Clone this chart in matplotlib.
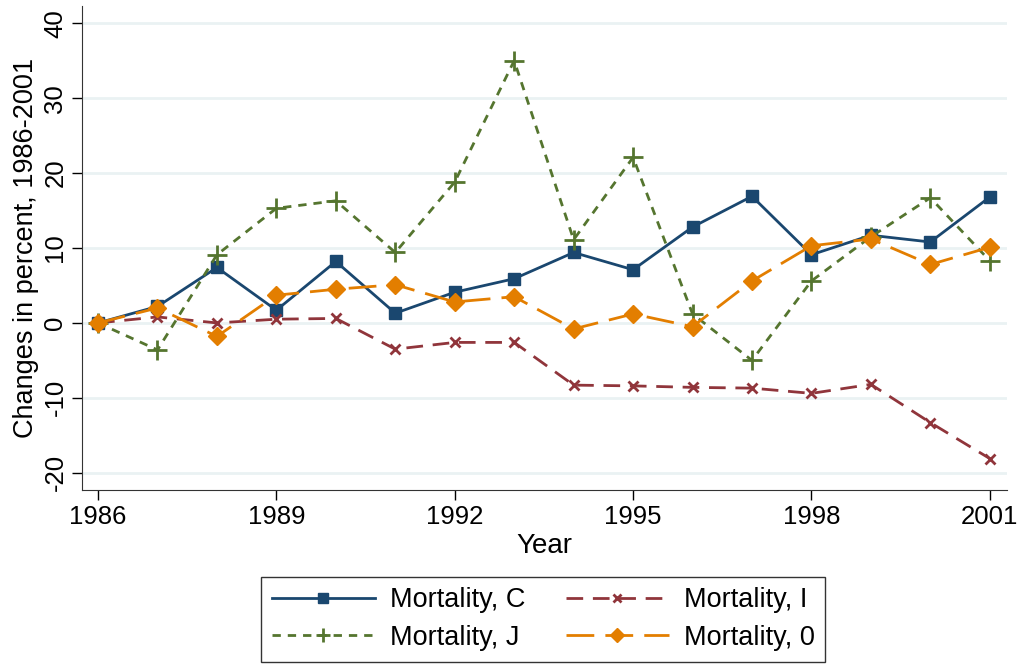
import matplotlib
matplotlib.use("Agg")
import matplotlib.pyplot as plt

plt.rcParams["font.family"] = ["Liberation Sans", "DejaVu Sans"]
plt.rcParams["axes.unicode_minus"] = False

# Data
years = list(range(1986, 2002))
mort_c = [0, 2.2, 7.4, 1.7, 8.2, 1.3, 4.1, 5.9, 9.4, 7.1, 12.8, 16.9, 9.1, 11.7, 10.8, 16.8]
mort_i = [0, 0.8, 0.0, 0.5, 0.6, -3.5, -2.6, -2.6, -8.3, -8.4, -8.6, -8.7, -9.4, -8.2, -13.3, -18.1]
mort_j = [0, -3.6, 9.1, 15.3, 16.3, 9.4, 18.8, 35.0, 11.1, 22.1, 1.2, -5.0, 5.6, 11.5, 16.7, 8.3]
mort_0 = [0, 2.0, -1.8, 3.7, 4.5, 5.1, 2.8, 3.5, -0.8, 1.2, -0.5, 5.6, 10.3, 11.2, 7.8, 10.1]

xticks = [1986, 1989, 1992, 1995, 1998, 2001]
yticks = [-20, -10, 0, 10, 20, 30, 40]

fig = plt.figure(figsize=(10.21, 6.64), dpi=100)
ax = fig.add_axes([0.0803, 0.262, 0.906, 0.729])

ax.plot(years, mort_c, color="#1a476f", lw=2, ls="-", marker="s", ms=9,
        label="Mortality, C")
ax.plot(years, mort_i, color="#90353b", lw=2, ls=(0, (6, 3.5)), marker="x", ms=7,
        mew=2, label="Mortality, I")
ax.plot(years, mort_j, color="#55752f", lw=2, ls=(0, (3, 2.5)), marker="+", ms=14,
        mew=2, label="Mortality, J")
ax.plot(years, mort_0, color="#e37e00", lw=2, ls=(0, (10, 4)), marker="D", ms=9,
        label="Mortality, 0")

ax.set_xlim(1985.73, 2001.29)
ax.set_ylim(-22.3, 42.3)
ax.set_xticks(xticks)
ax.set_yticks(yticks)
ax.tick_params(axis="both", labelsize=18.5, length=7, width=1, direction="out")
for lab in ax.get_yticklabels():
    lab.set_rotation(90)
    lab.set_va("center")

ax.grid(axis="y", color="#eaf2f3", lw=2)
ax.set_axisbelow(True)
for s in ["top", "right"]:
    ax.spines[s].set_visible(False)
ax.spines["left"].set_color("#333333")
ax.spines["bottom"].set_color("#333333")

ax.set_xlabel("Year", fontsize=20, labelpad=3)
ax.set_ylabel("Changes in percent, 1986-2001", fontsize=19.5, labelpad=3)

handles, labels = ax.get_legend_handles_labels()
order = [0, 2, 1, 3]
leg = fig.legend([handles[i] for i in order], [labels[i] for i in order],
                 loc="center", bbox_to_anchor=(0.532, 0.0675), ncol=2,
                 fontsize=19.5, frameon=True, fancybox=False, edgecolor="black",
                 handlelength=3.8, handletextpad=0.55, columnspacing=1.5,
                 borderpad=0.4, labelspacing=0.42, markerscale=0.75)
leg.get_frame().set_linewidth(1)

fig.savefig("out.png", dpi=100)
